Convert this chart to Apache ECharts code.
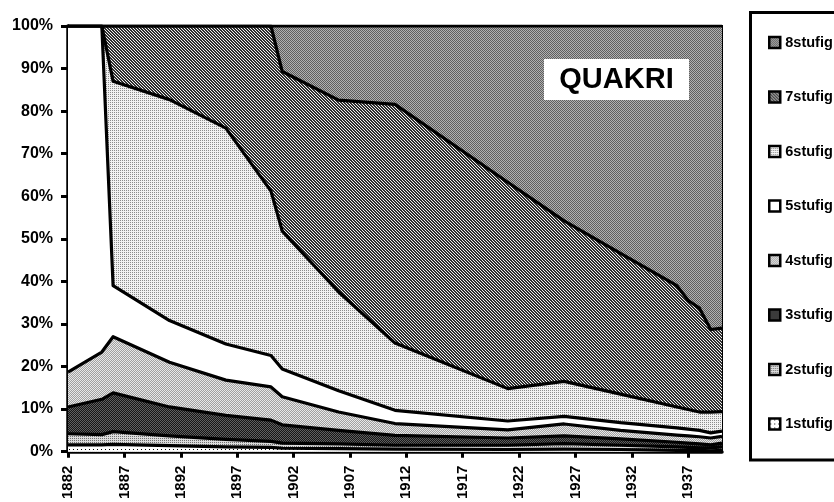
<!DOCTYPE html>
<html>
<head>
<meta charset="utf-8">
<script src="https://cdn.jsdelivr.net/npm/echarts@6/dist/echarts.min.js"></script>
<style>
html,body{margin:0;padding:0;background:#fff;}
#chart{width:834px;height:502px;}
</style>
</head>
<body>
<div id="chart"></div>
<script>
// ---- data (percent shares) ----
const years = [1882, 1885, 1886, 1891, 1896, 1900, 1901, 1906, 1911, 1921, 1926, 1931, 1936, 1937, 1938, 1939, 1940];
const s1stufig = [1.6, 1.6, 1.7, 1.4, 1.1, 1.0, 0.8, 0.7, 0.6, 0.5, 0.6, 0.5, 0.3, 0.3, 0.3, 0.2, 0.3];
const s2stufig = [2.6, 2.4, 3.0, 2.3, 1.8, 1.4, 1.2, 1.1, 0.9, 1.0, 1.3, 1.0, 0.8, 0.7, 0.6, 0.7, 0.8];
const s3stufig = [6.3, 8.3, 9.1, 6.8, 5.6, 5.0, 4.3, 3.2, 2.3, 1.7, 1.8, 1.5, 1.1, 1.0, 0.9, 0.7, 0.9];
const s4stufig = [8.2, 11.1, 13.2, 10.5, 8.3, 7.8, 6.6, 4.3, 2.8, 1.9, 2.8, 2.0, 1.7, 1.7, 1.7, 1.6, 1.6];
const s5stufig = [81.3, 76.6, 12.0, 9.8, 8.5, 7.4, 6.5, 5.0, 3.1, 2.1, 1.8, 1.8, 1.7, 1.6, 1.5, 1.2, 1.2];
const s6stufig = [0, 0, 48.0, 51.9, 50.7, 38.6, 32.4, 23.2, 15.8, 7.6, 8.2, 6.7, 4.9, 4.6, 4.3, 4.9, 4.6];
const s7stufig = [0, 0, 13.0, 17.3, 24.0, 38.8, 37.5, 45.1, 56.1, 48.5, 37.7, 33.1, 28.5, 25.6, 24.4, 19.4, 19.6];
const s8stufig = [0, 0, 0, 0, 0, 0, 10.7, 17.4, 18.4, 36.7, 45.8, 53.4, 61.0, 64.5, 66.3, 71.3, 71.0];
const seriesNames = ['1stufig', '2stufig', '3stufig', '4stufig', '5stufig', '6stufig', '7stufig', '8stufig'];
const seriesValues = [s1stufig, s2stufig, s3stufig, s4stufig, s5stufig, s6stufig, s7stufig, s8stufig];
const xTickYears = [1882, 1887, 1892, 1897, 1902, 1907, 1912, 1917, 1922, 1927, 1932, 1937];
const titleText = 'QUAKRI';

// ---- fill patterns ----
function pattern(size, fn) {
  const c = document.createElement('canvas');
  c.width = size; c.height = size;
  const ctx = c.getContext('2d');
  for (let i = 0; i < size; i++) for (let j = 0; j < size; j++) {
    ctx.fillStyle = fn(i, j); ctx.fillRect(i, j, 1, 1);
  }
  return { image: c, repeat: 'repeat' };
}
const fills = [
  pattern(4, (i, j) => (i % 4 === 1 && j % 4 === 1) ? '#000000' : '#ffffff'),          // 1
  pattern(2, (i, j) => (i === 0 && j === 0) ? '#707070' : '#dcdcdc'),                  // 2
  pattern(2, (i, j) => ((i + j) % 2) ? '#161616' : '#606060'),                         // 3
  pattern(2, (i, j) => ((i + j) % 2) ? '#a0a0a0' : '#e8e8e8'),                         // 4
  '#ffffff',                                                                           // 5
  pattern(2, (i, j) => (i === 0 && j === 0) ? '#8c8c8c' : '#f2f2f2'),                  // 6
  pattern(3, (i, j) => (((i - j) % 3 + 3) % 3 === 0) ? '#f0f0f0' : '#303030'),         // 7
  pattern(2, (i, j) => ((i + j) % 2) ? '#b0b0b0' : '#5e5e5e')                          // 8
];

// cumulative tops (the layers are painted over each other, lowest on top)
const cumulative = [];
seriesValues.forEach((vals, k) => {
  cumulative.push(vals.map((v, i) => (k ? cumulative[k - 1][i] : 0) + v));
});

const FONT = "'Liberation Sans', Arial, sans-serif";
const chart = echarts.init(document.getElementById('chart'), null, { renderer: 'canvas' });

const areaSeries = seriesNames.map((name, k) => ({
  name: name,
  type: 'line',
  symbol: 'none',
  z: 20 - k,
  color: fills[k],
  lineStyle: { width: 0, color: 'transparent' },
  areaStyle: { color: fills[k], opacity: 1, origin: 'start' },
  itemStyle: { color: fills[k], borderColor: '#000', borderWidth: 2 },
  emphasis: { disabled: true },
  data: years.map((y, i) => [y, cumulative[k][i]])
}));
const lineSeries = seriesNames.map((name, k) => ({
  name: name + ' border',
  type: 'line',
  symbol: 'none',
  z: 30,
  lineStyle: { color: '#000', width: 3.2, join: 'round' },
  emphasis: { disabled: true },
  data: years.map((y, i) => [y, cumulative[k][i]])
}));

chart.setOption({
  animation: false,
  backgroundColor: '#ffffff',
  grid: {
    left: 68, right: 112, top: 26, bottom: 49,
    show: true, borderColor: '#000', borderWidth: 2, backgroundColor: 'transparent'
  },
  xAxis: {
    type: 'value',
    min: years[0], max: years[years.length - 1],
    splitLine: { show: false },
    axisLine: { lineStyle: { color: '#000', width: 3.5 } },
    axisTick: { show: true, length: 6, lineStyle: { color: '#000', width: 3 }, customValues: xTickYears },
    axisLabel: {
      customValues: xTickYears,
      rotate: 90, margin: 14,
      formatter: v => String(v),
      color: '#000', fontFamily: FONT, fontWeight: 'bold', fontSize: 15
    }
  },
  yAxis: {
    type: 'value', min: 0, max: 100, interval: 10,
    splitLine: { show: false },
    axisLine: { show: true, lineStyle: { color: '#000', width: 3.5 } },
    axisTick: { show: true, length: 7, lineStyle: { color: '#000', width: 3 } },
    axisLabel: {
      formatter: '{value}%', margin: 15,
      color: '#000', fontFamily: FONT, fontWeight: 'bold', fontSize: 16
    }
  },
  legend: {
    orient: 'vertical',
    left: 763, top: 30,
    itemWidth: 11, itemHeight: 11,
    itemGap: 39.5,
    icon: 'rect',
    data: seriesNames.slice().reverse(),
    itemStyle: { borderColor: '#000', borderWidth: 2.5 },
    textStyle: { color: '#000', fontFamily: FONT, fontWeight: 'bold', fontSize: 14.5 },
    selectedMode: false
  },
  graphic: [
    { type: 'rect', silent: true, z: 100,
      shape: { x: 750.5, y: 12.5, width: 120, height: 447.5 },
      style: { fill: 'none', stroke: '#000', lineWidth: 3 } },
    { type: 'rect', silent: true, z: 100,
      shape: { x: 544, y: 59, width: 145, height: 41 },
      style: { fill: '#ffffff' } },
    { type: 'text', silent: true, z: 101,
      x: 616.5, y: 80,
      style: { text: titleText, fill: '#000', font: "bold 29px 'Liberation Sans', Arial, sans-serif",
               align: 'center', verticalAlign: 'middle' } }
  ],
  series: areaSeries.concat(lineSeries)
});
</script>
</body>
</html>
